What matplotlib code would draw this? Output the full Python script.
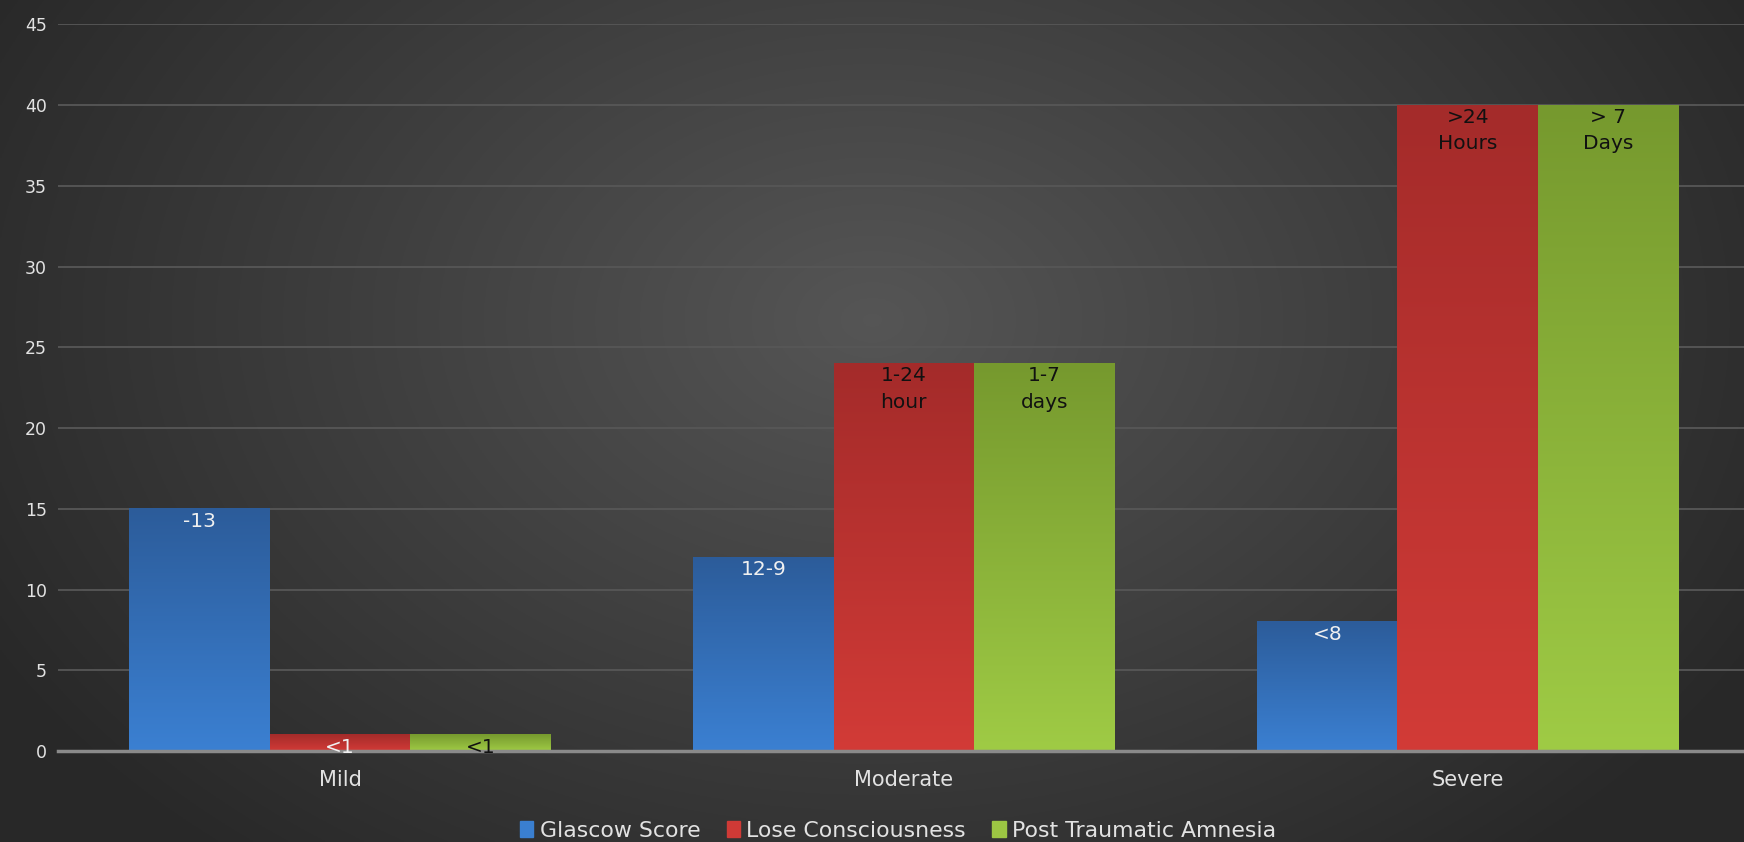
import numpy as np
import matplotlib
matplotlib.use("Agg")
import matplotlib.pyplot as plt
from matplotlib.colors import LinearSegmentedColormap

plt.rcParams['font.family'] = ['DejaVu Sans']

# data
categories = ['Mild', 'Moderate', 'Severe']
series_names = ['Glascow Score', 'Lose Consciousness', 'Post Traumatic Amnesia']
glascow = [15, 12, 8]
lose_conc = [1, 24, 40]
amnesia = [1, 24, 40]
glascow_txt = ['-13', '12-9', '<8']
lose_txt = ['<1', '1-24\nhour', '>24\nHours']
amnesia_txt = ['<1', '1-7\ndays', '> 7\nDays']

# (top colour, bottom colour) of each series gradient
grad_colors = [('#2c5c9a', '#3b80d2'), ('#a42b2a', '#d23b37'), ('#76992e', '#9fcb45')]
legend_colors = ['#3a7fd0', '#cf3a36', '#9cc643']
txt_colors = [['#f0f0f0'] * 3, ['#f0f0f0', '#111111', '#111111'], ['#111111'] * 3]

fig = plt.figure(figsize=(17.44, 8.42), dpi=100)

# radial background
bg = fig.add_axes([0, 0, 1, 1], zorder=-10)
yy, xx = np.mgrid[0:1:400j, 0:1:800j]
r = np.sqrt(((xx - 0.5) / 0.62) ** 2 + ((yy - 0.62) / 0.9) ** 2)
v = np.clip(0.335 - 0.19 * r, 0.16, 1)
bg.imshow(np.dstack([v, v, v]), extent=[0, 1, 0, 1], origin='lower', aspect='auto')
bg.axis('off')

ax = fig.add_axes([58 / 1744, 1 - 751 / 842, 1 - 58 / 1744, (751 - 24.5) / 842])
ax.patch.set_alpha(0)

x = np.arange(len(categories))
width = 0.249
all_vals = [glascow, lose_conc, amnesia]
all_txt = [glascow_txt, lose_txt, amnesia_txt]

for i, (vals, txts) in enumerate(zip(all_vals, all_txt)):
    pos = x + (i - 1) * width
    bars = ax.bar(pos, vals, width, color='none', edgecolor='none', zorder=3)
    cmap = LinearSegmentedColormap.from_list('g%d' % i, [grad_colors[i][1], grad_colors[i][0]])
    grad = np.linspace(0, 1, 256).reshape(-1, 1)
    for b, t, c in zip(bars, txts, txt_colors[i]):
        x0 = b.get_x()
        ax.imshow(grad, extent=[x0, x0 + b.get_width(), 0, b.get_height()], origin='lower',
                  aspect='auto', cmap=cmap, zorder=3)
        ax.annotate(t, (x0 + b.get_width() / 2, b.get_height()), xytext=(0, -2),
                    textcoords='offset points', ha='center', va='top', fontsize=14.5,
                    color=c, linespacing=1.5, zorder=5)

ax.set_xlim(-0.5, 2.49)
ax.set_ylim(0, 45)
ax.set_yticks(range(0, 46, 5))
ax.set_xticks(x)
ax.set_xticklabels(categories, fontsize=15)
ax.tick_params(axis='both', length=0, colors='#e2e2e2')
ax.tick_params(axis='y', labelsize=12.5, pad=8)
ax.tick_params(axis='x', pad=14)
ax.grid(axis='y', color='#575757', linewidth=1.3, zorder=0)
for s in ['top', 'right', 'left']:
    ax.spines[s].set_visible(False)
ax.spines['bottom'].set_color('#8a8a8a')
ax.spines['bottom'].set_linewidth(2.5)
ax.spines['bottom'].set_zorder(4)

handles = [plt.Rectangle((0, 0), 1, 1, color=c) for c in legend_colors]
leg = fig.legend(handles, series_names, loc='lower center', bbox_to_anchor=(0.515, -0.022), ncol=3,
                 frameon=False, fontsize=15.8, handlelength=0.6, handleheight=0.75,
                 handletextpad=0.3, columnspacing=1.2)
for t in leg.get_texts():
    t.set_color('#e2e2e2')

fig.savefig('out.png', dpi=100)
